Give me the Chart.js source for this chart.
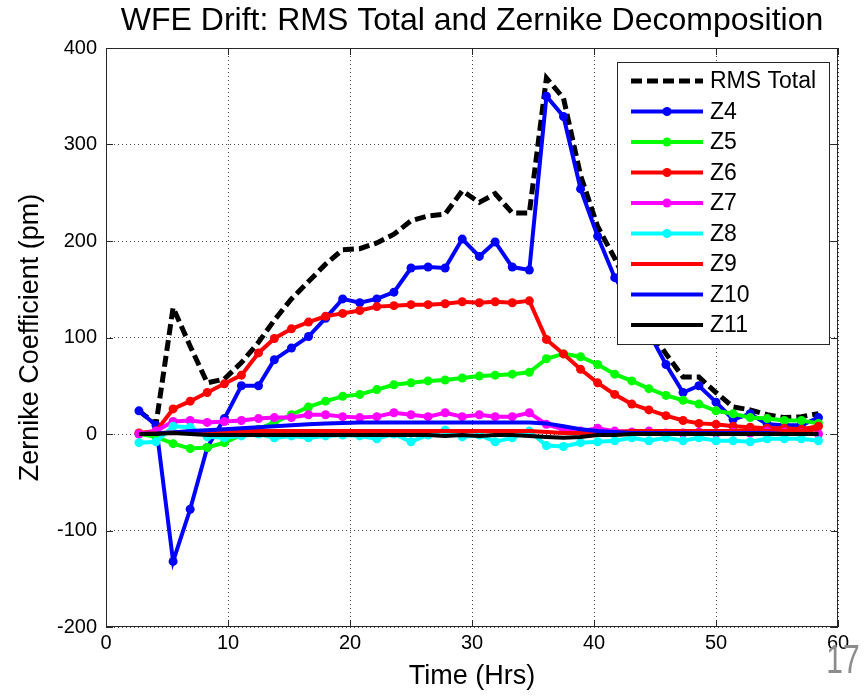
<!DOCTYPE html>
<html>
<head>
<meta charset="utf-8">
<title>WFE Drift</title>
<script src="https://cdn.jsdelivr.net/npm/chart.js@4.4.1/dist/chart.umd.min.js"></script>
<style>
  html, body { margin: 0; padding: 0; background: #fff; }
  #wrap { position: relative; width: 865px; height: 698px; }
</style>
</head>
<body>
<div id="wrap"><canvas id="wfeChart"></canvas></div>
<script>
// ===== Data =====
const timeHrs = [2.7, 4.1, 5.5, 6.9, 8.3, 9.7, 11.1, 12.5, 13.8, 15.2,
  16.6, 18.0, 19.4, 20.8, 22.2, 23.6, 25.0, 26.4, 27.8, 29.2,
  30.6, 31.9, 33.3, 34.7, 36.1, 37.5, 38.9, 40.3, 41.7, 43.1,
  44.5, 45.9, 47.3, 48.6, 50.0, 51.4, 52.8, 54.2, 55.6, 57.0, 58.4];

const rmsTotal = [24, 10, 131, 91, 53, 57, 74, 95, 118, 140,
  158, 176, 191, 192, 198, 207, 221, 226, 228, 252,
  240, 249, 229, 229, 369, 348, 268, 215, 182, 145,
  110, 83, 59, 59, 43, 28, 25, 20, 17, 18, 21];
const z4 = [24, 9, -132, -78, -14, 16, 50, 50, 77, 89,
  101, 120, 140, 136, 140, 147, 172, 173, 172, 202,
  184, 199, 173, 170, 350, 329, 254, 205, 162, 135,
  105, 72, 43, 50, 33, 15, 21, 10, 9, 9, 17];
const z5 = [0, -3, -10, -15, -14, -9, -1, 5, 12, 20,
  28, 34, 39, 41, 46, 51, 53, 55, 56, 58,
  60, 61, 62, 64, 78, 83, 80, 72, 62, 55,
  47, 40, 35, 31, 24, 21, 17, 16, 14, 14, 11];
const z6 = [1, 3, 26, 34, 43, 52, 61, 84, 99, 109,
  116, 122, 125, 128, 132, 133, 134, 134, 135, 137,
  136, 137, 136, 138, 98, 83, 67, 53, 41, 31,
  25, 19, 14, 11, 10, 8, 7, 6, 6, 5, 8];
const z7 = [0, 3, 13, 14, 12, 13, 14, 16, 17, 17,
  20, 20, 18, 17, 18, 22, 20, 18, 22, 18,
  20, 18, 18, 22, 10, 5, 3, 6, 3, 2,
  3, 1, 1, 2, 1, 2, 1, 3, 2, 1, 0];
const z8 = [-9, -8, 8, 7, -3, -4, -2, 0, -4, -2,
  -4, -2, -1, -2, -5, 0, -8, -1, 4, -3,
  -1, -8, -4, 3, -12, -13, -9, -8, -7, -4,
  -7, -4, -7, -4, -7, -7, -8, -5, -5, -5, -7];
const z9 = [0, 1, 1.5, 2, 2, 2.5, 3, 3, 3, 3,
  3, 3, 3, 3, 3, 3, 3, 3, 3, 3,
  3, 3, 3, 3, 2, 1, 1, 1, 2, 3,
  3, 3, 3, 3, 3, 3, 3, 3, 3, 3, 5];
const z10 = [0, 0.5, 1.5, 3, 4, 5, 6, 7, 8, 9,
  10, 11, 11.5, 12, 12, 12, 12, 12, 12, 12,
  12, 12, 12, 12, 11, 8, 5, 3, 2, 1,
  1, 1, 1, 1, 1, 1, 1, 1, 0, 0, 0];
const z11 = [0, 0, 1, 0, -1, -1, -1, -1, -1, -1,
  -1, -1, -1, -1, -1, -1, -1, -1, -2, -1,
  -2, -1, -1, -2, -3, -4, -3, -1, -1, 0,
  0, 0, 0, 0, 0, 0, 0, 0, 0, 0, 0];

const xTicks = [0, 10, 20, 30, 40, 50, 60];
const yTicks = [-200, -100, 0, 100, 200, 300, 400];

const FONT = "'Liberation Sans', Arial, Helvetica, sans-serif";

// ===== Datasets =====
function makeSet(label, values, color, markers, extra) {
  return Object.assign({
    label,
    data: values.map((v, i) => ({ x: timeHrs[i], y: v })),
    borderColor: color,
    backgroundColor: color,
    borderWidth: 4,
    pointRadius: markers ? 4.5 : 0,
    pointHoverRadius: markers ? 4.5 : 0,
    pointBackgroundColor: color,
    pointBorderColor: color,
    pointBorderWidth: 0,
    tension: 0,
    fill: false
  }, extra || {});
}

const datasets = [
  makeSet('RMS Total', rmsTotal, '#000000', false, { borderWidth: 5, borderDash: [11, 5] }),
  makeSet('Z4', z4, '#0000ff', true),
  makeSet('Z5', z5, '#00ff00', true),
  makeSet('Z6', z6, '#ff0000', true),
  makeSet('Z7', z7, '#ff00ff', true),
  makeSet('Z8', z8, '#00ffff', true),
  makeSet('Z9', z9, '#ff0000', false),
  makeSet('Z10', z10, '#0000ff', false),
  makeSet('Z11', z11, '#000000', false)
];
// later series sit on top, like MATLAB
datasets.forEach((d, i) => { d.order = datasets.length - i; });

// ===== Frame, inner ticks, legend, title =====
const matlabDecor = {
  id: 'matlabDecor',
  afterDatasetsDraw(chart) {
    const { ctx, chartArea: a, scales: { x, y } } = chart;
    ctx.save();
    ctx.strokeStyle = '#262626';
    ctx.lineWidth = 1;
    ctx.setLineDash([]);
    ctx.beginPath();
    xTicks.forEach(v => {
      const px = Math.round(x.getPixelForValue(v)) + 0.5;
      ctx.moveTo(px, a.bottom); ctx.lineTo(px, a.bottom - 7);
      ctx.moveTo(px, a.top); ctx.lineTo(px, a.top + 7);
    });
    yTicks.forEach(v => {
      const py = Math.round(y.getPixelForValue(v)) + 0.5;
      ctx.moveTo(a.left, py); ctx.lineTo(a.left + 7, py);
      ctx.moveTo(a.right, py); ctx.lineTo(a.right - 7, py);
    });
    ctx.stroke();
    ctx.strokeRect(Math.round(a.left) + 0.5, Math.round(a.top) + 0.5,
      Math.round(a.width) - 1, Math.round(a.height) - 1);
    ctx.restore();
  },
  afterDraw(chart) {
    const { ctx, chartArea: a } = chart;
    ctx.save();

    // legend box
    const lx = a.right - 221, ly = a.top + 14, lw = 212, lh = 282;
    ctx.fillStyle = '#fff';
    ctx.fillRect(lx, ly, lw, lh);
    ctx.strokeStyle = '#262626';
    ctx.lineWidth = 1;
    ctx.strokeRect(lx + 0.5, ly + 0.5, lw, lh);
    chart.data.datasets.forEach((ds, i) => {
      const cy = ly + 19 + i * 30.5;
      ctx.strokeStyle = ds.borderColor;
      ctx.lineWidth = ds.borderWidth;
      ctx.setLineDash(ds.borderDash || []);
      ctx.beginPath();
      ctx.moveTo(lx + 14, cy);
      ctx.lineTo(lx + 86, cy);
      ctx.stroke();
      ctx.setLineDash([]);
      if (ds.pointRadius > 0) {
        ctx.fillStyle = ds.borderColor;
        ctx.beginPath();
        ctx.arc(lx + 50, cy, ds.pointRadius, 0, Math.PI * 2);
        ctx.fill();
      }
      ctx.fillStyle = '#000';
      ctx.font = '23px ' + FONT;
      ctx.textAlign = 'left';
      ctx.textBaseline = 'middle';
      ctx.fillText(ds.label, lx + 93, cy + 1);
    });

    // title
    ctx.fillStyle = '#000';
    ctx.font = '32px ' + FONT;
    ctx.textAlign = 'center';
    ctx.textBaseline = 'middle';
    ctx.fillText('WFE Drift: RMS Total and Zernike Decomposition', (a.left + a.right) / 2, 21);

    // slide number
    ctx.fillStyle = '#8c8c8c';
    ctx.translate(843, 662);
    ctx.scale(0.75, 1);
    ctx.font = '40px ' + FONT;
    ctx.fillText('17', 0, 0);
    ctx.restore();
  }
};

// ===== Chart =====
const chart = new Chart(document.getElementById('wfeChart'), {
  type: 'line',
  data: { datasets },
  options: {
    responsive: true,
    maintainAspectRatio: false,
    animation: false,
    events: [],
    layout: { padding: { top: 48, right: 27, bottom: 0, left: 0 } },
    plugins: {
      legend: { display: false },
      tooltip: { enabled: false },
      title: { display: false }
    },
    scales: {
      x: {
        type: 'linear',
        min: 0,
        max: 60,
        afterBuildTicks: s => { s.ticks = xTicks.map(v => ({ value: v })); },
        afterFit: s => { s.height = 71; },
        grid: { color: '#444', lineWidth: 1, drawTicks: false },
        border: { display: false, dash: [1, 3] },
        ticks: { color: '#000', font: { family: FONT, size: 20 }, padding: 4, maxRotation: 0 },
        title: { display: true, text: 'Time (Hrs)', color: '#000', font: { family: FONT, size: 27 }, padding: { top: 4, bottom: 5 } }
      },
      y: {
        min: -200,
        max: 400,
        afterBuildTicks: s => { s.ticks = yTicks.map(v => ({ value: v })); },
        afterFit: s => { s.width = 106; },
        grid: { color: '#444', lineWidth: 1, drawTicks: false },
        border: { display: false, dash: [1, 3] },
        ticks: { color: '#000', font: { family: FONT, size: 20 }, padding: 9 },
        title: { display: true, text: 'Zernike Coefficient (pm)', color: '#000', font: { family: FONT, size: 27 }, padding: { top: 14, bottom: 0 } }
      }
    }
  },
  plugins: [matlabDecor]
});
</script>
</body>
</html>
